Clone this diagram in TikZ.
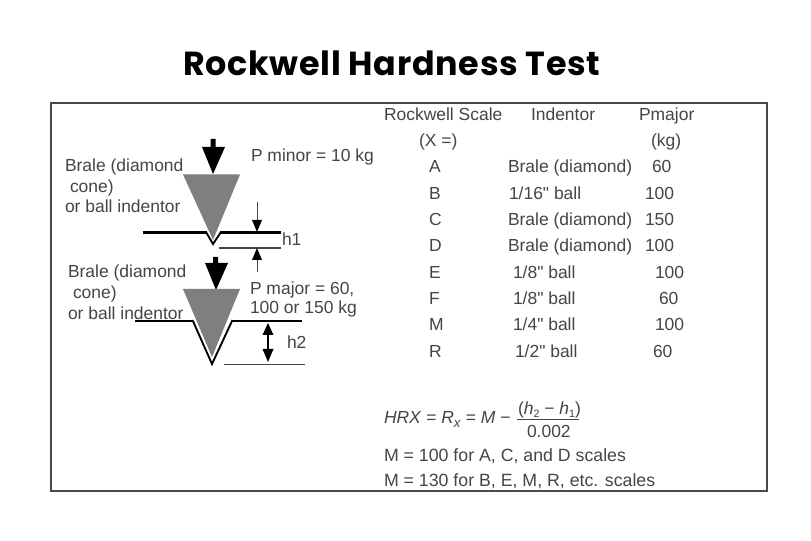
\documentclass[tikz,border=0pt]{standalone}
\usepackage{fontspec}
\newfontfamily\labfont{Liberation Sans}
\newfontfamily\titlefont[LetterSpace=2.2]{Poppins Bold}
\definecolor{txt}{HTML}{454545}
\definecolor{cone}{HTML}{7F7F7F}
\definecolor{frame}{HTML}{4A4A4A}
\tikzset{
  lab/.style={anchor=base west,inner sep=0pt,outer sep=0pt,text=txt,font=\labfont\fontsize{13.1pt}{15pt}\selectfont},
  ttl/.style={anchor=base west,inner sep=0pt,outer sep=0pt,text=black,font=\titlefont\fontsize{25pt}{30pt}\selectfont},
  conefill/.style={fill=cone,draw=none},
  load/.style={fill=black,draw=none},
  surf/.style={draw=black,line width=2.2pt,line join=miter},
  vee/.style={draw=black,line width=1.4pt,line join=miter},
  thinline/.style={draw=txt,line width=0.9pt},
  tip/.style={fill=black,draw=none},
}
\begin{document}
\begin{tikzpicture}[x=0.75pt,y=-0.75pt]
\useasboundingbox (0,0) rectangle (811,541);
\fill[white] (0,0) rectangle (811,541);
\node[ttl] (title) at (183,76) {Rockwell Hardness Test};
\draw[frame,line width=1.5pt] (51,103.5) rectangle (767,491);

% upper indentor
\fill[load] (210.5,139) -- (215.5,139) -- (215.5,147) -- (225,147) -- (213,174) -- (202,147) -- (210.5,147) -- cycle;
\fill[conefill] (183,174.5) -- (240,174.5) -- (213,240) -- cycle;
\draw[surf] (143,232.7) -- (207,232.7);
\draw[surf] (220,232.7) -- (281,232.7);
\draw[vee] (206,232) -- (213,244) -- (221,232);
\draw[thinline,line width=1.3pt] (219,248) -- (281,248);
\coordinate (a1s) at (257,202); \coordinate (a1e) at (257,232);
\coordinate (a2s) at (257,272); \coordinate (a2e) at (257,248);
\draw[thinline,line width=0.5pt] (a1s) -- (257,221);
\fill[tip] (a1e) -- (252,220) -- (262,220) -- cycle;
\draw[thinline,line width=0.5pt] (a2s) -- (257,260);
\fill[tip] (a2e) -- (252,260) -- (262,260) -- cycle;

% lower indentor
\fill[load] (213,257) -- (218,257) -- (218,263) -- (228,263) -- (216,290) -- (205,263) -- (213,263) -- cycle;
\fill[conefill] (183,289) -- (240,289) -- (212,357) -- cycle;
\draw[surf] (135,321) -- (193,321);
\draw[surf] (232,321) -- (302,321);
\draw[vee] (192.5,320) -- (212,364) -- (232.5,320);
\draw[thinline,line width=1.3pt] (224,364.5) -- (305,364.5);
\coordinate (b1) at (268,323); \coordinate (b2) at (268,362);
\draw[draw=black,line width=1pt] (268,335) -- (268,349);
\fill[tip] (b1) -- (262.5,335) -- (273.5,335) -- cycle;
\fill[tip] (b2) -- (262.5,349) -- (273.5,349) -- cycle;

% left labels
\node[lab] (u1) at (65,172) {Brale (diamond};
\node[lab] (u2) at (70,193) {cone)};
\node[lab] (u3) at (65,213) {or ball indentor};
\node[lab] (pmin) at (251,162) {P minor = 10 kg};
\node[lab] (h1) at (282,246) {h1};
\node[lab] (l1) at (68,277.5) {Brale (diamond};
\node[lab] (l2) at (73,298.5) {cone)};
\node[lab] (l3) at (68,319.5) {or ball indentor};
\node[lab] (pmaj1) at (250,295) {P major = 60,};
\node[lab] (pmaj2) at (250,314) {100 or 150 kg};
\node[lab] (h2) at (287,348.5) {h2};

% table
\node[lab] (th1) at (384,121) {Rockwell Scale};
\node[lab] (th2) at (531,121) {Indentor};
\node[lab] (th3) at (639,121) {Pmajor};
\node[lab] (th4) at (419,147) {(X =)};
\node[lab] (th5) at (651,147) {(kg)};
\node[lab] (a0) at (429,173) {A};
\node[lab] (a1) at (508,173) {Brale (diamond)};
\node[lab] (a2) at (652,173) {60};
\node[lab] (b0) at (429,199.5) {B};
\node[lab] (bb1) at (509,199.5) {1/16" ball};
\node[lab] (bb2) at (645,199.5) {100};
\node[lab] (c0) at (429,226) {C};
\node[lab] (c1) at (508,226) {Brale (diamond)};
\node[lab] (c2) at (645,226) {150};
\node[lab] (d0) at (429,252) {D};
\node[lab] (d1) at (508,252) {Brale (diamond)};
\node[lab] (d2) at (645,252) {100};
\node[lab] (e0) at (429,278.5) {E};
\node[lab] (e1) at (513,278.5) {1/8" ball};
\node[lab] (e2) at (655,278.5) {100};
\node[lab] (f0) at (429,304.5) {F};
\node[lab] (f1) at (513,304.5) {1/8" ball};
\node[lab] (f2) at (659,304.5) {60};
\node[lab] (m0) at (429,331) {M};
\node[lab] (m1) at (513,331) {1/4" ball};
\node[lab] (m2) at (655,331) {100};
\node[lab] (r0) at (429,357.5) {R};
\node[lab] (r1) at (515,357.5) {1/2" ball};
\node[lab] (r2) at (653,357.5) {60};

% formula
\node[lab] (fa) at (384,423.5) {\textit{HRX} = \textit{R}\raisebox{-3pt}{\fontsize{10pt}{10pt}\selectfont\textit{x}} = \textit{M} −};
\node[lab] (fn) at (518,415) {(\textit{h}\raisebox{-2pt}{\fontsize{8pt}{9pt}\selectfont 2} − \textit{h}\raisebox{-2pt}{\fontsize{8pt}{9pt}\selectfont 1})};
\draw[txt,line width=0.7pt] (517,419.5) -- (579,419.5);
\node[lab] (fd) at (527,438) {0.002};
\node[lab,font=\labfont\fontsize{13.3pt}{15pt}\selectfont] (m100) at (384,461.5) {M = 100 for A, C, and D scales};
\node[lab,font=\labfont\fontsize{13.3pt}{15pt}\selectfont] (m130) at (384,487) {M = 130 for B, E, M, R, etc. scales};
\end{tikzpicture}
\end{document}
